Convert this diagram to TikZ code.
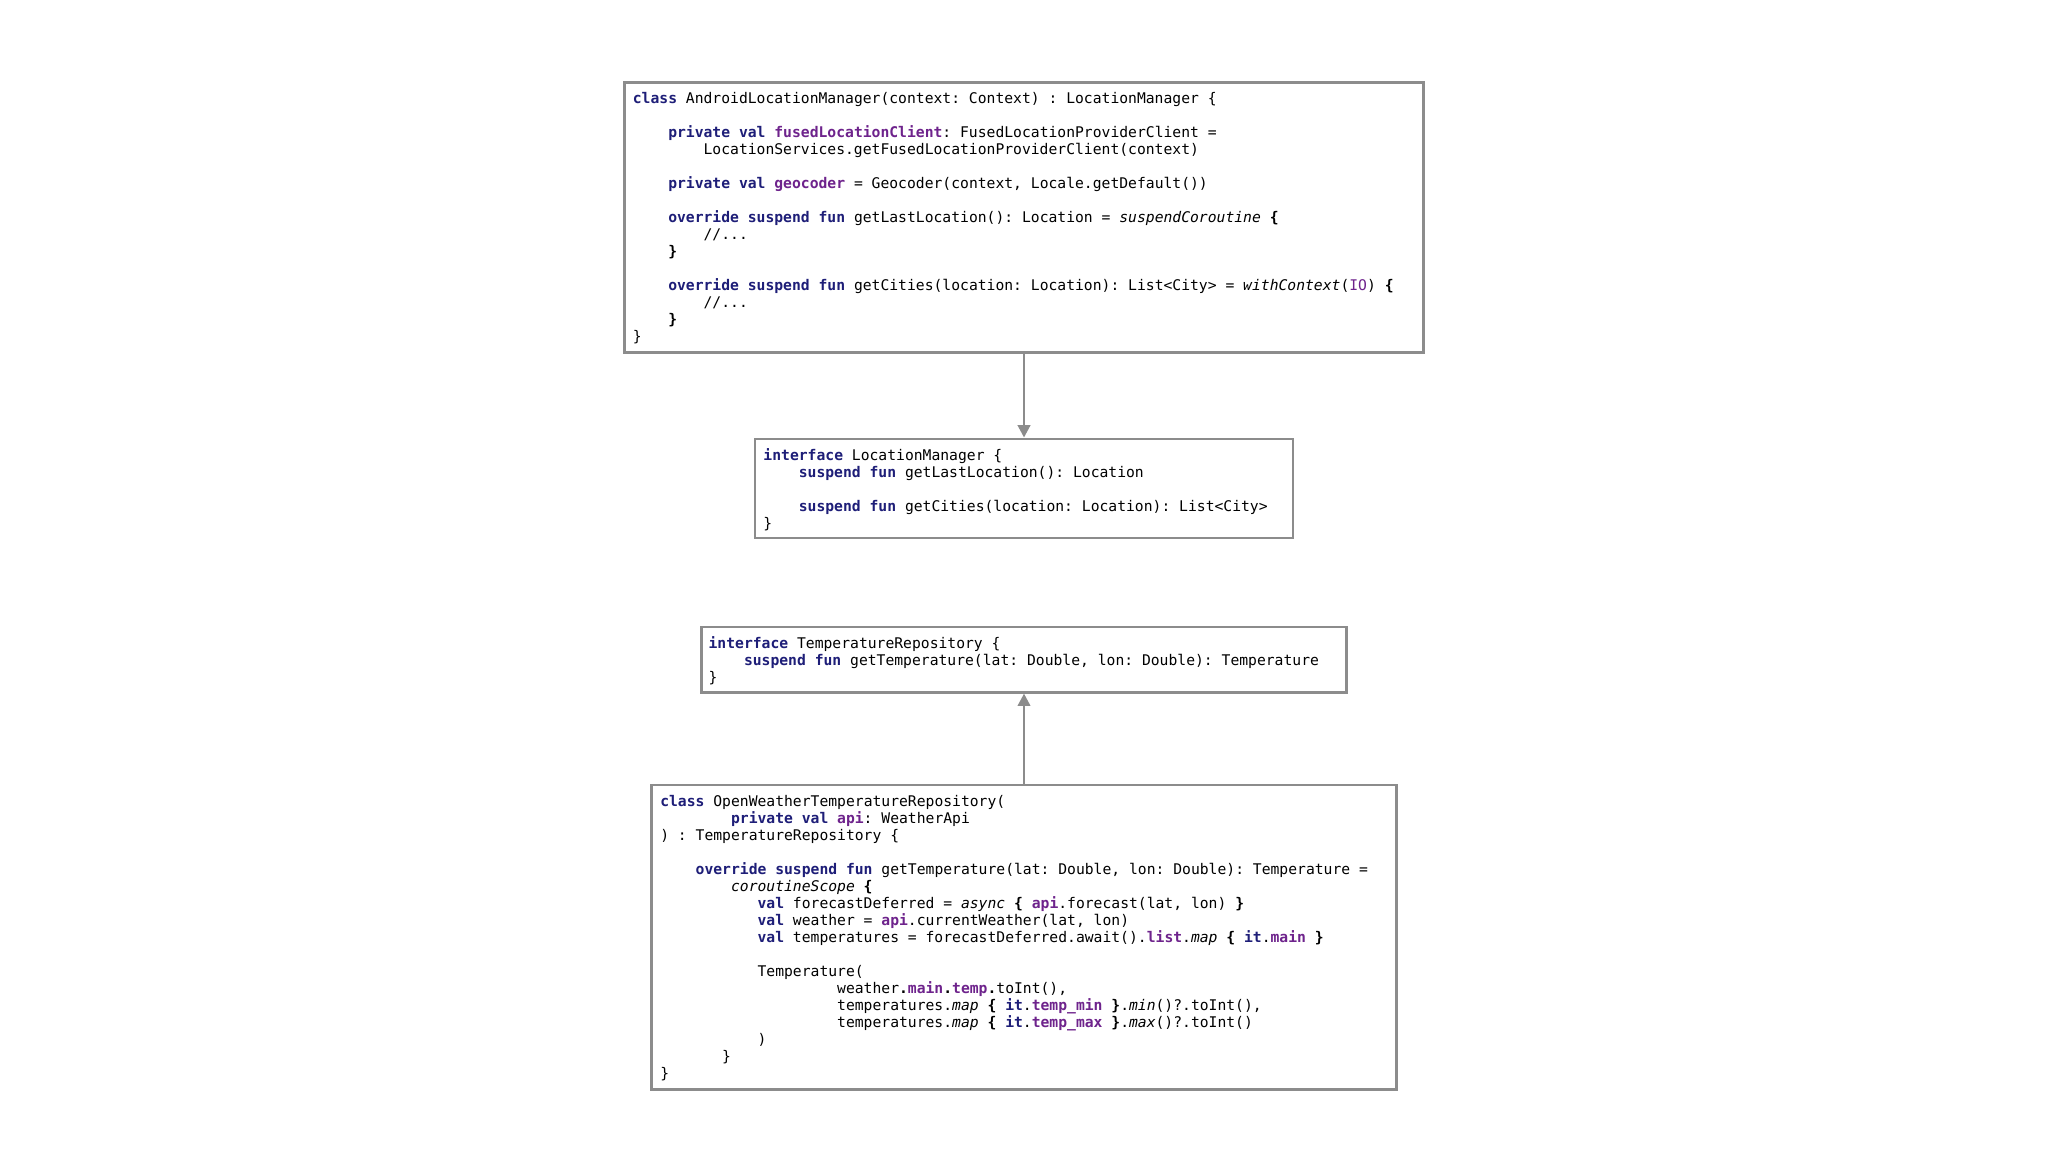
\documentclass[tikz,border=0pt]{standalone}
\usepackage{fontspec}
\setmonofont{DejaVu Sans Mono}
\usetikzlibrary{arrows.meta}
\definecolor{kwc}{RGB}{30,30,120}
\definecolor{prc}{RGB}{110,35,140}
\definecolor{boxc}{RGB}{140,140,140}
\newlength\cw \setlength\cw{2.516pt}
\newcommand\ind[1]{\hspace*{#1\cw}}
\newcommand\kw[1]{\textbf{\color{kwc}#1}}
\newcommand\pr[1]{\textbf{\color{prc}#1}}
\newcommand\prn[1]{{\color{prc}#1}}
\newcommand\bl{\mbox{}}
\tikzset{
  box/.style={draw=boxc,line width=0.75pt,rectangle,inner sep=0},
  code/.style={anchor=north west,inner sep=0,align=left,font=\ttfamily\fontsize{4.18pt}{4.84pt}\selectfont},
  conn/.style={draw=boxc,line width=0.75pt,-{Triangle[length=3.5pt,width=3.5pt]}}
}
\begin{document}
\begin{tikzpicture}[x=0.1306mm,y=-0.1306mm]
\useasboundingbox[fill=white] (0,0) rectangle (1568,882);
\node[box,minimum width=612*0.1306mm,minimum height=207*0.1306mm] (b1) at (784,166.5) {};
\node[box,minimum width=412*0.1306mm,minimum height=76*0.1306mm] (b2) at (784,374) {};
\node[box,minimum width=494*0.1306mm,minimum height=50*0.1306mm] (b3) at (784,505) {};
\node[box,minimum width=570*0.1306mm,minimum height=233*0.1306mm] (b4) at (784,717.5) {};
\draw[conn] (b1.south) -- (b2.north);
\draw[conn] (b4.north) -- (b3.south);
\node[code] (t1) at (484,70) {\kw{class} AndroidLocationManager(context: Context) : LocationManager \{\\
\bl\\
\ind{4}\kw{private val} \pr{fusedLocationClient}: FusedLocationProviderClient =\\
\ind{8}LocationServices.getFusedLocationProviderClient(context)\\
\bl\\
\ind{4}\kw{private val} \pr{geocoder} = Geocoder(context, Locale.getDefault())\\
\bl\\
\ind{4}\kw{override suspend fun} getLastLocation(): Location = \textit{suspendCoroutine} \textbf{\{}\\
\ind{8}//...\\
\ind{4}\textbf{\}}\\
\bl\\
\ind{4}\kw{override suspend fun} getCities(location: Location): List<City> = \textit{withContext}(\prn{IO}) \textbf{\{}\\
\ind{8}//...\\
\ind{4}\textbf{\}}\\
\}};
\node[code] (t2) at (584,343) {\kw{interface} LocationManager \{\\
\ind{4}\kw{suspend fun} getLastLocation(): Location\\
\bl\\
\ind{4}\kw{suspend fun} getCities(location: Location): List<City>\\
\}};
\node[code] (t3) at (542,487) {\kw{interface} TemperatureRepository \{\\
\ind{4}\kw{suspend fun} getTemperature(lat: Double, lon: Double): Temperature\\
\}};
\node[code] (t4) at (505,608) {\kw{class} OpenWeatherTemperatureRepository(\\
\ind{8}\kw{private val} \pr{api}: WeatherApi\\
) : TemperatureRepository \{\\
\bl\\
\ind{4}\kw{override suspend fun} getTemperature(lat: Double, lon: Double): Temperature =\\
\ind{8}\textit{coroutineScope} \textbf{\{}\\
\ind{11}\kw{val} forecastDeferred = \textit{async} \textbf{\{} \pr{api}.forecast(lat, lon) \textbf{\}}\\
\ind{11}\kw{val} weather = \pr{api}.currentWeather(lat, lon)\\
\ind{11}\kw{val} temperatures = forecastDeferred.await().\pr{list}.\textit{map} \textbf{\{} \kw{it}.\pr{main} \textbf{\}}\\
\bl\\
\ind{11}Temperature(\\
\ind{20}weather\textbf{.}\pr{main}\textbf{.}\pr{temp}\textbf{.}toInt(),\\
\ind{20}temperatures.\textit{map} \textbf{\{} \kw{it}.\pr{temp\_min} \textbf{\}}.\textit{min}()?.toInt(),\\
\ind{20}temperatures.\textit{map} \textbf{\{} \kw{it}.\pr{temp\_max} \textbf{\}}.\textit{max}()?.toInt()\\
\ind{11})\\
\ind{7}\}\\
\}};
\end{tikzpicture}
\end{document}
